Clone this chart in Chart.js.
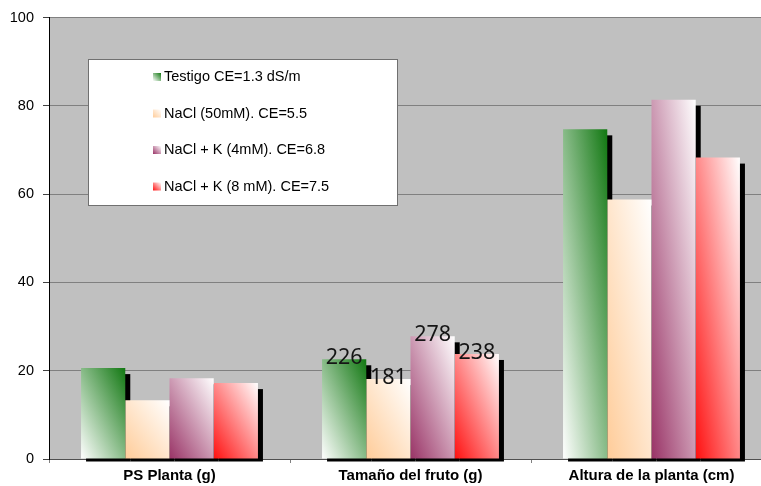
<!DOCTYPE html>
<html>
<head>
<meta charset="utf-8">
<script src="https://cdn.jsdelivr.net/npm/chart.js@4/dist/chart.umd.min.js"></script>
<style>
  html, body { margin: 0; padding: 0; background: #fff; overflow: hidden; }
  #wrap { width: 772px; height: 486px; }
</style>
</head>
<body>
<div id="wrap"><canvas id="c" width="772" height="486"></canvas></div>
<script>
// Categories and series
const categories = ['PS Planta (g)', 'Tamaño del fruto (g)', 'Altura de la planta (cm)'];
const seriesNames = [
  'Testigo CE=1.3 dS/m',
  'NaCl (50mM). CE=5.5',
  'NaCl + K (4mM). CE=6.8',
  'NaCl + K (8 mM). CE=7.5'
];
// Values per category, one entry per series
const psPlanta = [20.6, 13.3, 18.3, 17.2];
const fruitLabels = [226, 181, 278, 238];   // fruit size, written above the bars
const alturaPlanta = [74.7, 58.8, 81.4, 68.3];
// Axis ticks
const yTicks = [0, 20, 40, 60, 80, 100];

// Fruit size is plotted in tenths so it shares the 0-100 axis
const fruitScaled = fruitLabels.map(v => v / 10);

const baseColors = ['#127812', '#ffcc99', '#993366', '#ff1010'];
const CAT_PCT = 0.734;
const FONT = '"Liberation Sans", Arial, sans-serif';

function diagGradient(ctx, left, top, w, h, si) {
  const bottom = top + h;
  const k = (2 * w * h) / (h * h + w * w || 1);
  const g = ctx.createLinearGradient(left, bottom, left + h * k, bottom - w * k);
  if (si === 0) {
    g.addColorStop(0, '#ffffff');
    g.addColorStop(1, baseColors[0]);
  } else {
    g.addColorStop(0, baseColors[si]);
    g.addColorStop(1, '#ffffff');
  }
  return g;
}

function barFill(c) {
  const chart = c.chart;
  const xs = chart.scales.x, ys = chart.scales.y;
  if (!chart.chartArea || !xs || !ys || c.type !== 'data') return baseColors[c.datasetIndex];
  const catW = (xs.right - xs.left) / categories.length;
  const groupW = catW * CAT_PCT;
  const barW = groupW / seriesNames.length;
  const left = xs.getPixelForValue(c.dataIndex) - groupW / 2 + c.datasetIndex * barW;
  const top = ys.getPixelForValue(c.parsed.y);
  const bottom = ys.getPixelForValue(0);
  return diagGradient(chart.ctx, left, top, barW, bottom - top, c.datasetIndex);
}

const datasets = seriesNames.map((name, i) => ({
  label: name,
  data: [psPlanta[i], fruitScaled[i], alturaPlanta[i]],
  backgroundColor: barFill,
  borderWidth: 0,
  categoryPercentage: CAT_PCT,
  barPercentage: 1
}));

// Grey plot background
const plotBg = {
  id: 'plotBg',
  beforeDraw(chart) {
    const { ctx, chartArea: a } = chart;
    ctx.save();
    ctx.fillStyle = '#c0c0c0';
    ctx.fillRect(a.left, a.top, a.right - a.left, a.bottom - a.top);
    ctx.restore();
  }
};

// Black drop shadow behind every bar
const barShadow = {
  id: 'barShadow',
  beforeDatasetsDraw(chart) {
    const { ctx, chartArea: a } = chart;
    ctx.save();
    ctx.beginPath();
    ctx.rect(a.left, a.top, a.right - a.left, a.bottom + 2.5 - a.top);
    ctx.clip();
    ctx.fillStyle = '#000';
    chart.data.datasets.forEach((ds, di) => {
      chart.getDatasetMeta(di).data.forEach(el => {
        const p = el.getProps(['x', 'y', 'base', 'width'], true);
        ctx.fillRect(p.x - p.width / 2 + 5, p.y + 6, p.width, p.base - p.y);
      });
    });
    ctx.restore();
  }
};

// Value labels on the fruit size group, plus the boxed legend
const overlay = {
  id: 'overlay',
  afterDatasetsDraw(chart) {
    const { ctx } = chart;
    ctx.save();
    ctx.fillStyle = '#151515';
    ctx.font = '21.5px "Noto Sans", "Open Sans", sans-serif';
    ctx.textAlign = 'center';
    ctx.textBaseline = 'middle';
    chart.data.datasets.forEach((ds, di) => {
      const el = chart.getDatasetMeta(di).data[1];
      ctx.fillText(String(fruitLabels[di]), el.x, el.y - 1);
    });

    // legend box
    ctx.fillStyle = '#ffffff';
    ctx.fillRect(88.5, 59.5, 309, 146);
    ctx.strokeStyle = '#707070';
    ctx.lineWidth = 1;
    ctx.strokeRect(88.5, 59.5, 309, 146);
    ctx.font = '14.5px ' + FONT;
    ctx.textAlign = 'left';
    ctx.textBaseline = 'middle';
    const rowY = [77, 113.5, 150, 186.5];
    seriesNames.forEach((name, i) => {
      const y = rowY[i];
      ctx.fillStyle = diagGradient(ctx, 153, y - 4, 8, 8, i);
      ctx.fillRect(153, y - 4, 8, 8);
      ctx.fillStyle = '#000';
      ctx.fillText(name, 164, y);
    });
    ctx.restore();
  }
};

new Chart(document.getElementById('c'), {
  type: 'bar',
  data: { labels: categories, datasets },
  options: {
    responsive: false,
    animation: false,
    layout: { padding: { top: 17, left: 0, right: 0, bottom: 0 } },
    plugins: {
      legend: { display: false },
      tooltip: { enabled: false }
    },
    scales: {
      x: {
        offset: true,
        grid: {
          offset: true,
          drawOnChartArea: false,
          drawTicks: true,
          tickLength: 4,
          color: '#808080'
        },
        border: { display: true, color: '#505050', width: 1 },
        ticks: {
          color: '#000',
          font: { family: FONT, size: 15, weight: 'bold' },
          padding: 4,
          maxRotation: 0
        },
        afterFit(s) { s.height = 27; }
      },
      y: {
        min: 0,
        max: 100,
        afterBuildTicks(s) { s.ticks = yTicks.map(v => ({ value: v })); },
        grid: {
          color: '#808080',
          tickColor: '#404040',
          tickLength: 6,
          lineWidth: 1
        },
        border: { display: true, color: '#000', width: 1 },
        ticks: {
          color: '#000',
          font: { family: FONT, size: 14.5 },
          padding: 9
        },
        afterFit(s) { s.width = 49; }
      }
    }
  },
  plugins: [plotBg, barShadow, overlay]
});
</script>
</body>
</html>
